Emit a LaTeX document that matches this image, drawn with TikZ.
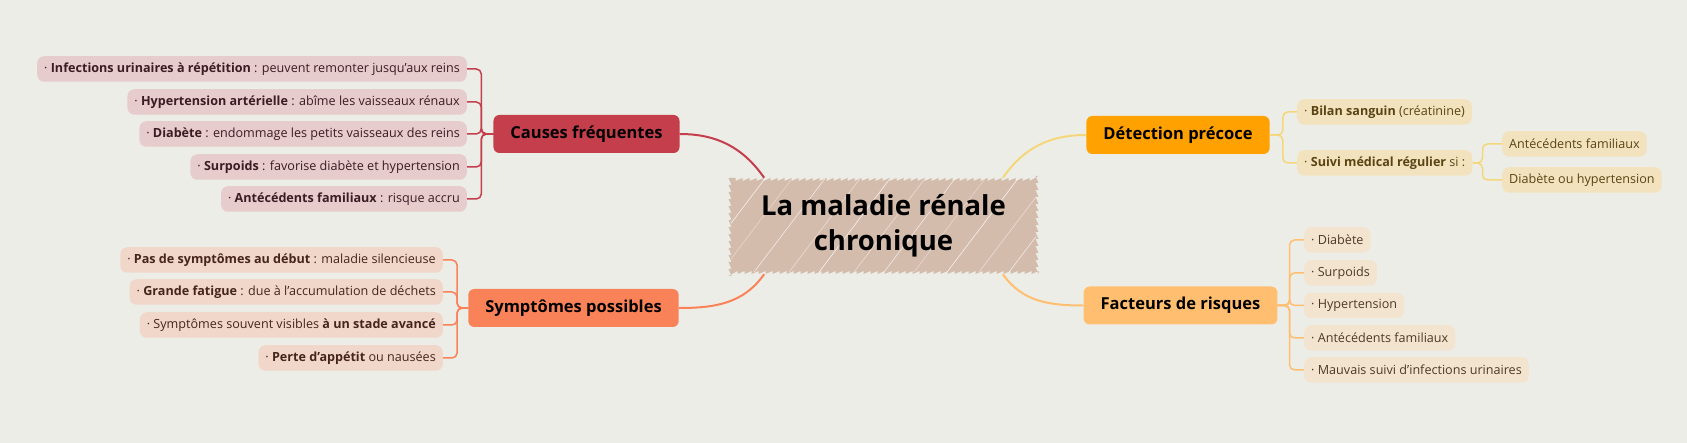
\documentclass[tikz,border=0pt]{standalone}
\usepackage{fontspec}
\setmainfont{Open Sans}
\usepackage{xcolor}
\usetikzlibrary{decorations.pathmorphing}

\definecolor{bgpaper}{HTML}{EDEDE8}
\definecolor{mainfill}{HTML}{D4BCAD}
\definecolor{causered}{HTML}{C43E4C}
\definecolor{causeitem}{HTML}{E6CCCC}
\definecolor{causetext}{HTML}{3A1C24}
\definecolor{symporange}{HTML}{FA8258}
\definecolor{sympitem}{HTML}{F1D7C9}
\definecolor{symptext}{HTML}{46251A}
\definecolor{detecorange}{HTML}{FFA100}
\definecolor{detecline}{HTML}{F4D77A}
\definecolor{detecitem}{HTML}{F2E3BE}
\definecolor{dectext}{HTML}{5A4414}
\definecolor{riskorange}{HTML}{FFBE70}
\definecolor{riskitem}{HTML}{F3E4D0}
\definecolor{risktext}{HTML}{4E3A22}

\begin{document}
\begin{tikzpicture}[x=1pt,y=-1pt,
		topic/.style={rounded corners=6pt, minimum height=38pt, inner xsep=17pt, font=\fontsize{16.5}{18}\selectfont\bfseries, text=black},
		item/.style={rounded corners=7pt, minimum height=25.5pt, inner xsep=7pt, font=\fontsize{12.6}{14}\selectfont},
		centre/.style={minimum width=310pt, minimum height=96pt, align=center, font=\fontsize{27.5}{35}\selectfont\bfseries},
		scribble/.style={fill=mainfill, decorate, decoration={saw, segment length=7pt, amplitude=3pt}},
		branch/.style={rounded corners=5pt, line width=1.5pt, to path={-- ++(#1,0) |- (\tikztotarget)}},
		link/.style={line width=2pt}]
		\path[use as bounding box, fill=bgpaper] (0,0) rectangle (1687,443);

		% fond hachure du sujet central
		\path[scribble] (728.5,178) rectangle (1038.5,274);
		\begin{scope}
			\clip (731,180) rectangle (1036,272);
			\foreach \dx/\op in {650/0.5, 685/0.8, 712/0.4, 745/0.7, 780/0.5, 810/0.8, 845/0.5, 875/0.7, 905/0.4, 938/0.8, 970/0.5, 1000/0.7, 1030/0.6}
				\draw[white, line width=0.6pt, opacity=\op] (\dx, 284) -- ++(88, -116);
		\end{scope}
		\node[centre] (main) at (883.5,226) {La maladie rénale\\chronique};

		% branches a gauche
		\node[topic, fill=causered]   (cf) at (586.5,134) {Causes fréquentes};
		\node[topic, fill=symporange] (sp) at (573.5,308) {Symptômes possibles};

		\node[item, fill=causeitem, text=causetext, anchor=east] (c1) at (467,69)  {· \textbf{Infections urinaires à répétition} : peuvent remonter jusqu'aux reins};
		\node[item, fill=causeitem, text=causetext, anchor=east] (c2) at (467,102) {· \textbf{Hypertension artérielle} : abîme les vaisseaux rénaux\hspace{6pt}};
		\node[item, fill=causeitem, text=causetext, anchor=east] (c3) at (467,134) {· \textbf{Diabète} : endommage les petits vaisseaux des reins\hspace{6pt}};
		\node[item, fill=causeitem, text=causetext, anchor=east] (c4) at (467,167) {· \textbf{Surpoids} : favorise diabète et hypertension};
		\node[item, fill=causeitem, text=causetext, anchor=east] (c5) at (467,199) {· \textbf{Antécédents familiaux} : risque accru};

		\node[item, fill=sympitem, text=symptext, anchor=east] (s1) at (443,260) {· \textbf{Pas de symptômes au début} : maladie silencieuse};
		\node[item, fill=sympitem, text=symptext, anchor=east] (s2) at (443,292) {· \textbf{Grande fatigue} : due à l'accumulation de déchets\hspace{6pt}};
		\node[item, fill=sympitem, text=symptext, anchor=east] (s3) at (443,325) {· Symptômes souvent visibles \textbf{à un stade avancé}\hspace{6pt}};
		\node[item, fill=sympitem, text=symptext, anchor=east] (s4) at (443,358) {· \textbf{Perte d'appétit} ou nausées\hspace{6pt}};

		% branches a droite
		\node[topic, fill=detecorange] (dp) at (1178,135)   {Détection précoce};
		\node[topic, fill=riskorange]  (fr) at (1180.5,305.5) {Facteurs de risques};

		\node[item, fill=detecitem, text=dectext, anchor=west] (d1) at (1297,112) {· \textbf{Bilan sanguin} (créatinine)};
		\node[item, fill=detecitem, text=dectext, anchor=west] (d2) at (1297,163) {· \textbf{Suivi médical régulier} si :\hspace{6pt}};
		\node[item, fill=detecitem, text=dectext, anchor=west] (d3) at (1502,144) {Antécédents familiaux};
		\node[item, fill=detecitem, text=dectext, anchor=west] (d4) at (1502,180) {Diabète ou hypertension};

		\node[item, fill=riskitem, text=risktext, anchor=west] (r1) at (1304,240) {· Diabète};
		\node[item, fill=riskitem, text=risktext, anchor=west] (r2) at (1304,273) {· Surpoids};
		\node[item, fill=riskitem, text=risktext, anchor=west] (r3) at (1304,305.5) {· Hypertension};
		\node[item, fill=riskitem, text=risktext, anchor=west] (r4) at (1304,338) {· Antécédents familiaux};
		\node[item, fill=riskitem, text=risktext, anchor=west] (r5) at (1304,370) {· Mauvais suivi d'infections urinaires};

		\path[link, draw=causered]   (cf) edge[out=0, in=125]  (main.158);
		\path[link, draw=symporange] (sp) edge[out=0, in=235]  (main.202);
		\path[link, draw=detecline]  (main.22)  edge[out=55, in=180]  (dp);
		\path[link, draw=riskorange] (main.338) edge[out=-55, in=180] (fr);

		\path[draw=causered] (cf.west) edge[branch=-12] (c1.east) edge[branch=-12] (c2.east) edge[branch=-12] (c3.east) edge[branch=-12] (c4.east) edge[branch=-12] (c5.east);
		\path[draw=symporange] (sp.west) edge[branch=-11] (s1.east) edge[branch=-11] (s2.east) edge[branch=-11] (s3.east) edge[branch=-11] (s4.east);
		\path[draw=detecline] (dp.east) edge[branch=13] (d1.west) edge[branch=13] (d2.west);
		\path[draw=detecline] (d2.east) edge[branch=10] (d3.west) edge[branch=10] (d4.west);
		\path[draw=riskorange] (fr.east) edge[branch=12] (r1.west) edge[branch=12] (r2.west) edge[branch=12] (r3.west) edge[branch=12] (r4.west) edge[branch=12] (r5.west);
	\end{tikzpicture}
\end{document}
